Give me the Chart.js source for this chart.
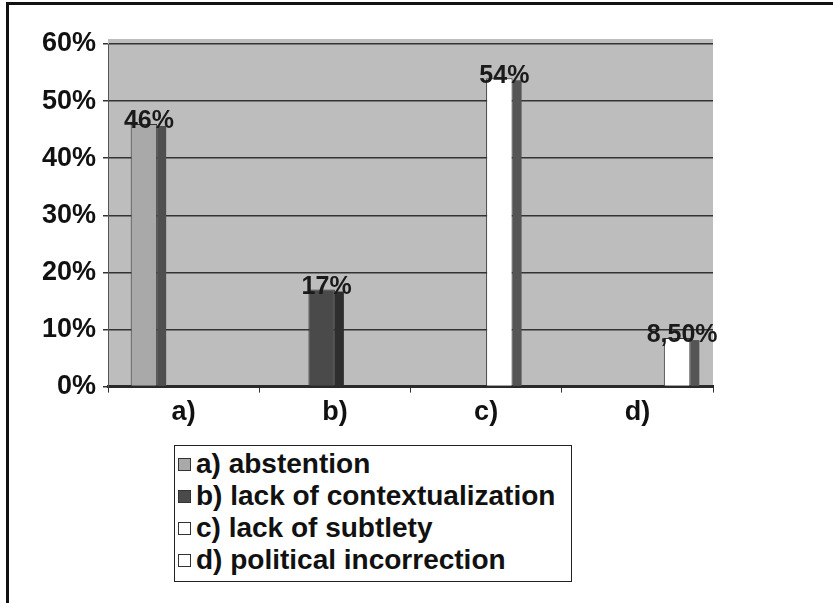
<!DOCTYPE html>
<html>
<head>
<meta charset="utf-8">
<script src="https://cdn.jsdelivr.net/npm/chart.js@4/dist/chart.umd.min.js"></script>
<style>
  html, body { margin: 0; padding: 0; background: #fff; overflow: hidden; }
  body { width: 833px; height: 603px; position: relative; font-family: 'Liberation Sans', Arial, sans-serif; }
  #frame { position: absolute; left: 6px; top: 2px; width: 900px; height: 700px;
           border-left: 3px solid #111; border-top: 3px solid #111; }
  #wrap { position: absolute; left: 0; top: 0; width: 833px; height: 440px; }
  #legend { position: absolute; left: 174px; top: 445px; width: 398px; height: 137px;
            border: 1px solid #222; background: #fff; padding-top: 2px; box-sizing: border-box; }
  .item { height: 32px; line-height: 32px; font-weight: bold; font-size: 28px; color: #111;
          white-space: nowrap; display: flex; align-items: center; }
  .box { width: 11px; height: 11px; border: 1px solid #333; margin: 0 5px 0 3px; flex: none; }
</style>
</head>
<body>
<div id="frame"></div>
<div id="wrap"><canvas id="chart"></canvas></div>
<div id="legend"></div>
<script>
// categories and series
const categories = ['a)', 'b)', 'c)', 'd)'];
const seriesNames = ['a) abstention', 'b) lack of contextualization', 'c) lack of subtlety', 'd) political incorrection'];
const abstention = [0.46, null, null, null];
const lackOfContext = [null, 0.17, null, null];
const lackOfSubtlety = [null, null, 0.54, null];
const politicalIncorrection = [null, null, null, 0.085];

const fills = ['#a9a9a9', '#4a4a4a', '#ffffff', '#ffffff'];
const sides = ['#4f4f4f', '#2e2e2e', '#555555', '#555555'];
const FONT = "'Liberation Sans', Arial, sans-serif";

function pct(v) {
  const p = Math.round(v * 1000) / 10;
  return Number.isInteger(p) ? p + '%' : p.toFixed(2).replace('.', ',') + '%';
}

// gray back wall, bar side faces and value labels
const depth = {
  id: 'depth',
  beforeDraw(chart) {
    const { ctx, chartArea: a } = chart;
    ctx.save();
    ctx.fillStyle = '#bdbdbd';
    ctx.fillRect(a.left, a.top - 5, a.right - a.left, a.bottom - a.top + 5);
    ctx.restore();
  },
  afterDatasetsDraw(chart) {
    const ctx = chart.ctx;
    ctx.save();
    chart.data.datasets.forEach((ds, i) => {
      chart.getDatasetMeta(i).data.forEach((bar, j) => {
        const v = ds.data[j];
        if (v == null) return;
        const right = bar.x + bar.width / 2;
        ctx.fillStyle = sides[i];
        ctx.fillRect(right, bar.y + 2, 9, bar.base - bar.y - 2);
        ctx.font = 'bold 25px ' + FONT;
        ctx.fillStyle = '#1a1a1a';
        ctx.textAlign = 'center';
        ctx.textBaseline = 'bottom';
        ctx.fillText(pct(v), bar.x + 5, bar.y + 10);
      });
    });
    ctx.restore();
  }
};

const chart = new Chart(document.getElementById('chart'), {
  type: 'bar',
  data: {
    labels: categories,
    datasets: [abstention, lackOfContext, lackOfSubtlety, politicalIncorrection].map((d, i) => ({
      label: seriesNames[i],
      data: d,
      backgroundColor: fills[i],
      borderColor: '#333',
      borderWidth: 1,
      categoryPercentage: 0.7,
      barPercentage: 1
    }))
  },
  options: {
    responsive: true,
    maintainAspectRatio: false,
    animation: false,
    layout: { padding: { left: 0, top: 44, right: 120, bottom: 7 } },
    plugins: { legend: { display: false }, tooltip: { enabled: false } },
    scales: {
      x: {
        grid: { drawOnChartArea: false, color: '#333', tickLength: 6 },
        border: { color: '#2a2a2a', width: 3 },
        ticks: { color: '#111', font: { family: FONT, size: 27, weight: 'bold' }, padding: 4 }
      },
      y: {
        min: 0, max: 0.6,
        afterFit(s) { s.width = 108; },
        grid: { color: '#333', lineWidth: 1.5, tickLength: 5 },
        border: { color: '#555', width: 1 },
        ticks: { stepSize: 0.1, callback: v => Math.round(v * 100) + '%', color: '#111',
                 font: { family: FONT, size: 27, weight: 'bold' }, padding: 7 }
      }
    }
  },
  plugins: [depth]
});

// legend built from the chart's datasets
const legend = document.getElementById('legend');
chart.data.datasets.forEach(ds => {
  const row = document.createElement('div');
  row.className = 'item';
  const box = document.createElement('span');
  box.className = 'box';
  box.style.background = ds.backgroundColor;
  row.appendChild(box);
  row.appendChild(document.createTextNode(ds.label));
  legend.appendChild(row);
});
</script>
</body>
</html>
